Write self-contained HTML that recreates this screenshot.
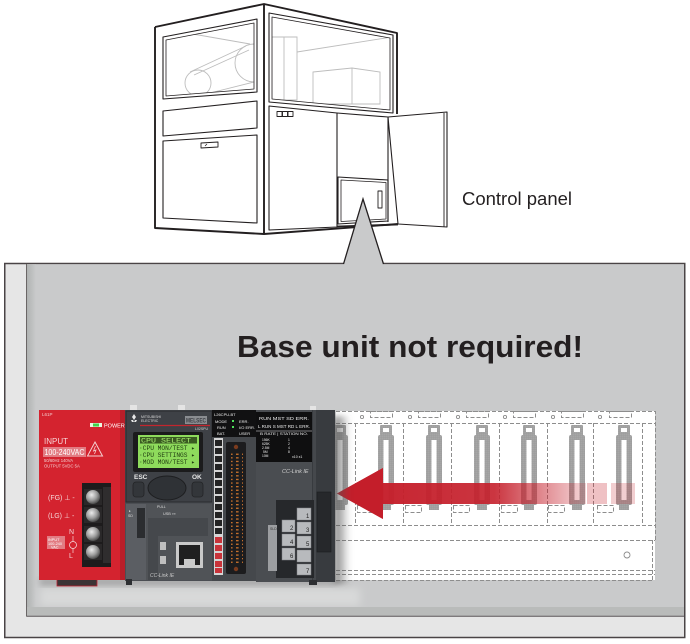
<!DOCTYPE html>
<html><head><meta charset="utf-8"><style>
html,body{margin:0;padding:0;background:#fff;}
svg{display:block;}
</style></head><body>
<svg width="690" height="644" viewBox="0 0 690 644" xmlns="http://www.w3.org/2000/svg" font-family="Liberation Sans, DejaVu Sans, sans-serif">
<defs>
 <linearGradient id="arr" gradientUnits="userSpaceOnUse" x1="383" y1="0" x2="586" y2="0">
  <stop offset="0" stop-color="#c51f2b" stop-opacity="0.97"/>
  <stop offset="0.55" stop-color="#c51f2b" stop-opacity="0.9"/>
  <stop offset="1" stop-color="#c51f2b" stop-opacity="0.18"/>
 </linearGradient>
 <radialGradient id="screw" cx="0.4" cy="0.35" r="0.7">
  <stop offset="0" stop-color="#ececec"/><stop offset="0.55" stop-color="#9c9c9c"/><stop offset="1" stop-color="#3e3e3e"/>
 </radialGradient>
 <linearGradient id="leftstripe" x1="0" x2="1"><stop offset="0" stop-color="#b0b3b2"/><stop offset="1" stop-color="#c9cacb"/></linearGradient>
 <linearGradient id="rshadow" x1="0" x2="1"><stop offset="0" stop-color="#555" stop-opacity="0.75"/><stop offset="1" stop-color="#555" stop-opacity="0"/></linearGradient>
 <filter id="blur" x="-50%" y="-20%" width="200%" height="140%"><feGaussianBlur stdDeviation="3"/></filter>
 <filter id="blur2" x="-20%" y="-50%" width="140%" height="200%"><feGaussianBlur stdDeviation="4"/></filter>
 <pattern id="pins" width="6" height="3.6" patternUnits="userSpaceOnUse" x="231" y="450">
  <rect x="0" y="0" width="1.6" height="1.3" fill="#c9722c"/>
  <rect x="5" y="0" width="1.6" height="1.3" fill="#c9722c"/>
 </pattern>
 <pattern id="dots" width="2" height="2" patternUnits="userSpaceOnUse">
  <rect width="2" height="2" fill="#9a9a9a"/><rect x="0.5" y="0.5" width="0.8" height="0.8" fill="#c8c8c8"/>
 </pattern>
 <clipPath id="lw"><polygon points="166,40 254,23 254,89 166,96"/></clipPath>
 <clipPath id="rw"><polygon points="272,17 390,38 390,110 272,99"/></clipPath>
 <g id="cn">
  <rect x="-6" y="425" width="12" height="11" rx="1" fill="url(#dots)"/>
  <rect x="-8" y="435" width="16" height="70" rx="2" fill="url(#dots)"/>
  <rect x="-5" y="504" width="10" height="6" fill="url(#dots)"/>
  <rect x="-2.5" y="440" width="5" height="60" fill="#fff"/>
  <rect x="-3" y="428" width="6" height="4" fill="#fff"/>
 </g>
</defs>

<!-- ================= MACHINE ================= -->
<g fill="none" stroke="#bdbdbd" stroke-width="0.9">
 <g clip-path="url(#lw)">
  <line x1="170" y1="30" x2="250" y2="44"/>
  <circle cx="254" cy="63" r="19"/>
  <circle cx="198" cy="83" r="13"/>
  <line x1="190" y1="72" x2="246" y2="46"/>
  <line x1="194" y1="75" x2="249" y2="50"/>
  <line x1="206" y1="94" x2="258" y2="81"/>
 </g>
 <g clip-path="url(#rw)">
  <polygon points="272,37 297,37 297,100 272,100"/>
  <line x1="284" y1="37" x2="284" y2="100"/>
  <line x1="297" y1="52" x2="392" y2="37"/>
  <polygon points="313,72 352,68 380,72 380,104 313,104"/>
  <line x1="352" y1="68" x2="352" y2="104"/>
 </g>
</g>
<g fill="none" stroke="#231f20" stroke-linejoin="round">
 <path stroke-width="1.9" d="M155,27 L264,4 L397,33 L397,114 M155,27 L155,228 L264,234 L398,224 M264,4 L264,234"/>
 <g stroke-width="1.1">
  <polygon points="163,37 257,19 257,92 163,99"/>
  <polygon points="166,40 254,23 254,89 166,96" stroke-width="0.8"/>
  <polygon points="163,111 257,101 257,128 163,136"/>
  <polygon points="163,141 257,135 257,223 163,218"/>
  <polygon points="201,143 218,142 218,147 201,148" stroke-width="0.9"/>
  <line x1="205" y1="146" x2="207" y2="144" stroke-width="0.7"/>
  <polygon points="269,13 393,35 393,113 269,102"/>
  <polygon points="272,17 390,38 390,110 272,99" stroke-width="0.8"/>
  <polygon points="269,106 337,113 337,227 269,230"/>
  <rect x="277" y="111.5" width="5" height="5" stroke-width="0.9"/>
  <rect x="282.5" y="111.5" width="5" height="5" stroke-width="0.9"/>
  <rect x="288" y="111.5" width="5" height="5" stroke-width="0.9"/>
  <polyline points="337,113 388,117 388,222"/>
  <polygon points="338,177 388,180 388,221 338,224"/>
  <polygon points="341,180 386,182.5 386,219 341,221.5" stroke-width="0.8"/>
  <rect x="378" y="191" width="4" height="17" stroke-width="0.9"/>
  <polygon points="388,117 447,112 447,227 398,224"/>
  <line x1="444" y1="113" x2="444" y2="226.5" stroke-width="0.9"/>
 </g>
 <line x1="337" y1="226.5" x2="398" y2="224.5" stroke-width="1.8"/>
</g>
<text x="462" y="205" font-size="18" fill="#231f20" textLength="110" lengthAdjust="spacingAndGlyphs">Control panel</text>

<!-- ================= PANEL ================= -->
<rect x="4.75" y="263.5" width="680" height="374" fill="#e6e6e6" stroke="#4a4446" stroke-width="1.5"/>
<rect x="27" y="264.3" width="657" height="351.7" fill="#c9cacb"/>
<rect x="27" y="264.3" width="9" height="351.7" fill="url(#leftstripe)"/>
<rect x="40" y="588" width="320" height="18" fill="#d8d9d9" filter="url(#blur2)"/>
<rect x="27" y="607" width="657" height="9" fill="#b9bbba"/>
<line x1="26.5" y1="264" x2="26.5" y2="616.5" stroke="#6a6666" stroke-width="1"/>
<line x1="26.5" y1="616.3" x2="684" y2="616.3" stroke="#5c5758" stroke-width="1"/>
<!-- callout -->
<polygon points="343.5,265 363,199 383.5,265" fill="#c9cacb"/>
<path d="M343.5,264 L363,199 L383.5,264" fill="none" stroke="#231f20" stroke-width="1.3"/>

<text x="237" y="357" font-size="31" font-weight="bold" fill="#231f20" textLength="346" lengthAdjust="spacingAndGlyphs">Base unit not required!</text>

<!-- ================= DASHED BASE ================= -->
<rect x="336" y="411" width="319" height="169" fill="#fff"/>
<g fill="none" stroke="#8d8d8d" stroke-width="1" stroke-dasharray="4 2">
 <path d="M336,411.5 H655.5 V540 M336,423.5 H655 M336,525.5 H655 M336,540.5 H655 M652.5,540 V580 M336,570.5 H655 M336,574.5 H655 M336,580.5 H652"/>
 <path d="M355.5,423 V525 M403.5,423 V525 M451.5,423 V525 M499.5,423 V525 M547.5,423 V525 M593.5,423 V525 M642.5,423 V525"/>
 <rect x="370.5" y="411.5" width="22" height="6"/>
 <rect x="418.5" y="411.5" width="22" height="6"/>
 <rect x="466.5" y="411.5" width="22" height="6"/>
 <rect x="513.5" y="411.5" width="22" height="6"/>
 <rect x="561.5" y="411.5" width="22" height="6"/>
 <rect x="609.5" y="411.5" width="22" height="6"/>
 <rect x="357.5" y="505.5" width="16" height="7"/>
 <rect x="405.5" y="505.5" width="16" height="7"/>
 <rect x="453.5" y="505.5" width="16" height="7"/>
 <rect x="501.5" y="505.5" width="16" height="7"/>
 <rect x="548.5" y="505.5" width="16" height="7"/>
 <rect x="597.5" y="505.5" width="16" height="7"/>
</g>
<g fill="none" stroke="#8d8d8d" stroke-width="0.9">
 <circle cx="362" cy="417" r="1.6"/><circle cx="410" cy="417" r="1.6"/><circle cx="458" cy="417" r="1.6"/>
 <circle cx="505" cy="417" r="1.6"/><circle cx="553" cy="417" r="1.6"/><circle cx="600" cy="417" r="1.6"/>
 <circle cx="627" cy="555" r="3"/>
</g>
<!-- connectors -->
<use href="#cn" x="340"/>
<use href="#cn" x="386"/>
<use href="#cn" x="434"/>
<use href="#cn" x="482"/>
<use href="#cn" x="529"/>
<use href="#cn" x="577"/>
<use href="#cn" x="624"/>
<!-- arrow -->
<polygon points="337,493.5 383,468 383,483 586,483 586,504 383,504 383,519" fill="url(#arr)"/>
<polygon points="337,493.5 383,468 383,519" fill="#c41e2a"/>
<rect x="587" y="483" width="20" height="21" fill="#c51f2b" fill-opacity="0.28"/>
<rect x="611" y="483" width="24" height="21" fill="#c51f2b" fill-opacity="0.22"/>

<!-- ================= PLC SHADOW ================= -->
<rect x="334" y="416" width="16" height="168" fill="url(#rshadow)" filter="url(#blur)"/>
<rect x="40" y="578" width="295" height="8" fill="#6a6a6a" opacity="0.35" filter="url(#blur)"/>

<!-- ================= POWER SUPPLY ================= -->
<rect x="57" y="579" width="40" height="7" fill="#3b3436" stroke="#c02030" stroke-width="0.8"/>
<rect x="39" y="410" width="87" height="170" fill="#d4232f"/>
<rect x="120" y="410" width="6" height="170" fill="#b91e29"/>
<text x="42" y="416" font-size="4.5" fill="#f3c7c9">L61P</text>
<rect x="90" y="423" width="12" height="4" fill="#e8f8e0"/>
<rect x="93" y="423.5" width="6" height="3" fill="#3fd34a"/>
<text x="104" y="427.5" font-size="5.5" fill="#fff">POWER</text>
<text x="44" y="444" font-size="8" fill="#f7d3d5">INPUT</text>
<rect x="43" y="447" width="43" height="10" fill="#e27c83"/>
<text x="44.5" y="455" font-size="8" fill="#fff" textLength="40" lengthAdjust="spacingAndGlyphs">100-240VAC</text>
<path d="M95,442 L102.5,456 L87.5,456 Z" fill="none" stroke="#f5d0d2" stroke-width="1"/>
<path d="M95.5,446 L93.5,451 L96,450 L94.5,454" fill="none" stroke="#f5d0d2" stroke-width="0.8"/>
<text x="44" y="462" font-size="4.2" fill="#f3d0d2">50/60Hz 140VA</text>
<text x="44" y="467.5" font-size="4.2" fill="#f3d0d2">OUTPUT 5VDC 5A</text>
<rect x="82" y="483" width="29" height="84" fill="#1d1b1c"/>
<rect x="103" y="487" width="8" height="76" fill="#2f2d2e"/>
<rect x="84" y="489" width="18" height="16" fill="#2a2829"/><circle cx="93" cy="497" r="7" fill="url(#screw)"/>
<rect x="84" y="507" width="18" height="16" fill="#2a2829"/><circle cx="93" cy="515" r="7" fill="url(#screw)"/>
<rect x="84" y="526" width="18" height="16" fill="#2a2829"/><circle cx="93" cy="534" r="7" fill="url(#screw)"/>
<rect x="84" y="544" width="18" height="16" fill="#2a2829"/><circle cx="93" cy="552" r="7" fill="url(#screw)"/>
<text x="48" y="500" font-size="7" fill="#f5d5d7">(FG) ⊥ -</text>
<text x="48" y="518" font-size="7" fill="#f5d5d7">(LG) ⊥ -</text>
<text x="69" y="534" font-size="7" fill="#f5d5d7">N</text>
<text x="69" y="558" font-size="7" fill="#f5d5d7">L</text>
<rect x="47" y="536" width="18" height="13" fill="#e27c83"/>
<text x="48" y="541" font-size="3.8" fill="#fff">INPUT</text>
<text x="48" y="545" font-size="3.8" fill="#fff">100-240</text>
<text x="51" y="548.5" font-size="3.8" fill="#fff">VAC</text>
<circle cx="73" cy="545" r="3.5" fill="none" stroke="#f5d5d7" stroke-width="0.8"/>
<path d="M73,536 V541.5 M73,548.5 V553" stroke="#f5d5d7" stroke-width="0.7"/>

<!-- ================= CPU ================= -->
<rect x="130" y="405" width="7" height="6" fill="#e4e4e4"/>
<rect x="178" y="405" width="7" height="6" fill="#e4e4e4"/>
<rect x="310" y="406" width="6" height="5" fill="#e4e4e4"/>
<rect x="125" y="410" width="88" height="171" fill="#4b4e53"/>
<rect x="126" y="411" width="86" height="91" fill="#3e4146" stroke="#2a2c2f" stroke-width="1"/>
<path d="M134,414 l2,3 l-2,3 l-2,-3z M131,420 l2,0 l1,2 l-2,0z M137,420 l-2,0 l-1,2 l2,0z" fill="#e8e8e8"/>
<text x="141" y="418" font-size="3.5" fill="#d8d8d8">MITSUBISHI</text>
<text x="141" y="422" font-size="3.5" fill="#d8d8d8">ELECTRIC</text>
<rect x="185" y="416" width="22" height="8" fill="#8a8d91"/>
<text x="186" y="422.5" font-size="6" font-weight="bold" fill="#3e4146" textLength="20" lengthAdjust="spacingAndGlyphs">MELSEC</text>
<line x1="140" y1="425.5" x2="210" y2="425.5" stroke="#c2262e" stroke-width="1.2"/>
<text x="195" y="430" font-size="3.5" fill="#d8d8d8">L02SPU</text>
<rect x="133" y="432" width="70" height="40" rx="2" fill="#1b1b1c"/>
<rect x="138" y="435" width="61" height="33" fill="#8edb5c"/>
<rect x="140" y="437" width="57" height="6.5" fill="#3a5a22"/>
<g font-family="Liberation Mono, DejaVu Sans Mono, monospace" font-size="6">
<text x="141" y="442.5" fill="#a8f070" textLength="50" lengthAdjust="spacingAndGlyphs">CPU SELECT</text>
<text x="139" y="450" fill="#1f3a10" textLength="56" lengthAdjust="spacingAndGlyphs">·CPU MON/TEST ▸</text>
<text x="139" y="457" fill="#1f3a10" textLength="56" lengthAdjust="spacingAndGlyphs">·CPU SETTINGS ▸</text>
<text x="139" y="464" fill="#1f3a10" textLength="56" lengthAdjust="spacingAndGlyphs">·MOD MON/TEST ▸</text>
</g>
<text x="134" y="479" font-size="6.5" font-weight="bold" fill="#e6e6e6">ESC</text>
<text x="192" y="479" font-size="6.5" font-weight="bold" fill="#e6e6e6">OK</text>
<rect x="133" y="482" width="11" height="15" rx="3" fill="#33363a" stroke="#232426" stroke-width="0.8"/>
<rect x="192" y="482" width="11" height="15" rx="3" fill="#33363a" stroke="#232426" stroke-width="0.8"/>
<ellipse cx="167" cy="488" rx="19" ry="12" fill="#2f3236" stroke="#1d1e20" stroke-width="1"/>
<rect x="126" y="504" width="20" height="76" fill="#5b5e63"/>
<rect x="137" y="508" width="8" height="30" fill="#2b2d30"/>
<text x="129" y="512" font-size="3.5" fill="#ddd">▸</text>
<text x="128" y="517" font-size="3.5" fill="#ddd">SD</text>
<rect x="146" y="504" width="66" height="76" fill="#505357"/>
<text x="157" y="508" font-size="3.5" fill="#ddd">PULL</text>
<text x="163" y="515" font-size="3.8" fill="#ddd">USB ⊶</text>
<rect x="148" y="518" width="60" height="18" fill="#45484c"/>
<rect x="148" y="536" width="10" height="44" fill="#45484c"/>
<rect x="160" y="542" width="6" height="8" fill="#bfbfbf"/>
<rect x="160" y="556" width="6" height="8" fill="#bfbfbf"/>
<rect x="176" y="542" width="27" height="26" fill="#c9c9c9"/>
<rect x="179" y="545" width="21" height="20" fill="#1f1f20"/>
<rect x="184" y="559" width="11" height="6" fill="#c9c9c9"/>
<text x="150" y="577" font-size="5" font-style="italic" fill="#c8c8c8">CC-Link IE</text>
<rect x="126" y="579" width="6" height="6" fill="#2d2f32"/>

<!-- ================= I/O MODULE ================= -->
<rect x="212" y="410" width="44" height="171" fill="#45484c"/>
<rect x="212" y="410" width="44" height="27" fill="#111112"/>
<g font-size="4" fill="#eee">
<text x="214" y="416">L26CPU-BT</text>
<text x="215" y="423">MODE</text><text x="239" y="423">ERR.</text>
<text x="217" y="429">RUN</text><text x="239" y="429">I/O ERR.</text>
<text x="217" y="435">BAT.</text><text x="239" y="435">USER</text>
</g>
<rect x="232" y="420" width="2" height="2" fill="#4fe05a"/>
<rect x="232" y="426" width="2" height="2" fill="#4fe05a"/>
<rect x="214" y="438" width="9" height="137" fill="#d5d5d5"/>
<g fill="#232323">
<rect x="215" y="440" width="7" height="6"/><rect x="215" y="448" width="7" height="6"/><rect x="215" y="456" width="7" height="6"/><rect x="215" y="464" width="7" height="6"/>
<rect x="215" y="472" width="7" height="6"/><rect x="215" y="480" width="7" height="6"/><rect x="215" y="488" width="7" height="6"/><rect x="215" y="496" width="7" height="6"/>
<rect x="215" y="504" width="7" height="6"/><rect x="215" y="512" width="7" height="6"/><rect x="215" y="520" width="7" height="6"/><rect x="215" y="528" width="7" height="6"/>
</g>
<g fill="#c9333a">
<rect x="215" y="537" width="7" height="6"/><rect x="215" y="545" width="7" height="6"/><rect x="215" y="553" width="7" height="6"/><rect x="215" y="561" width="7" height="6"/><rect x="215" y="568" width="7" height="5"/>
</g>
<rect x="226" y="442" width="20" height="132" rx="2" fill="#1c1c1e"/>
<rect x="231" y="452" width="12" height="112" fill="url(#pins)"/>
<circle cx="236" cy="447" r="2.2" fill="#7a3b1e"/>
<circle cx="236" cy="569" r="2.2" fill="#7a3b1e"/>

<!-- ================= CC-LINK MODULE ================= -->
<rect x="256" y="410" width="79" height="172" fill="#4a4d51"/>
<rect x="256" y="412" width="56" height="50" fill="#0f0f10"/>
<g font-size="4.2" fill="#eee">
<text x="259" y="420" textLength="50" lengthAdjust="spacingAndGlyphs">RUN  MST  SD  ERR.</text>
<text x="258" y="428" textLength="52" lengthAdjust="spacingAndGlyphs">L RUN  S MST  RD  L ERR.</text>
<text x="260" y="435" font-size="3.6" textLength="48" lengthAdjust="spacingAndGlyphs">B RATE  | STATION NO.</text>
<text x="262" y="441" font-size="3.3">156K</text>
<text x="262" y="445" font-size="3.3">625K</text>
<text x="262" y="449" font-size="3.3">2.5M</text>
<text x="263" y="453" font-size="3.3">5M</text>
<text x="262" y="457" font-size="3.3">10M</text>
<text x="288" y="441" font-size="3.3">1</text>
<text x="288" y="445" font-size="3.3">2</text>
<text x="288" y="449" font-size="3.3">4</text>
<text x="288" y="453" font-size="3.3">8</text>
<text x="292" y="458" font-size="3.5">x10  x1</text>
</g>
<line x1="256" y1="431" x2="312" y2="431" stroke="#eee" stroke-width="0.5"/>
<text x="282" y="473" font-size="5.5" font-style="italic" fill="#d0d0d0">CC-Link IE</text>
<rect x="312" y="410" width="23" height="172" fill="#383b3f"/>
<rect x="313" y="410" width="3" height="172" fill="#45484c"/>
<rect x="317" y="492" width="14" height="60" fill="#26282b" stroke="#1c1d1f" stroke-width="0.6"/>
<rect x="276" y="500" width="38" height="78" fill="#26282b"/>
<rect x="268" y="525" width="9" height="46" fill="#9c9ea1"/>
<text x="270" y="530" font-size="3.5" fill="#333">SLD</text>
<g fill="#b8babd" stroke="#808285" stroke-width="0.5">
<rect x="282" y="520" width="13" height="12"/><rect x="282" y="534" width="13" height="12"/><rect x="282" y="548" width="13" height="12"/>
<rect x="297" y="508" width="14" height="12"/><rect x="297" y="522" width="14" height="12"/><rect x="297" y="536" width="14" height="12"/><rect x="297" y="550" width="14" height="12"/><rect x="297" y="564" width="14" height="11"/>
</g>
<g font-size="6" fill="#222">
<text x="290" y="530">2</text><text x="290" y="544">4</text><text x="290" y="558">6</text>
<text x="306" y="518">1</text><text x="306" y="532">3</text><text x="306" y="546">5</text><text x="306" y="573">7</text>
</g>
<rect x="309" y="580" width="8" height="5" fill="#2d2f32"/>
</svg>
</body></html>
